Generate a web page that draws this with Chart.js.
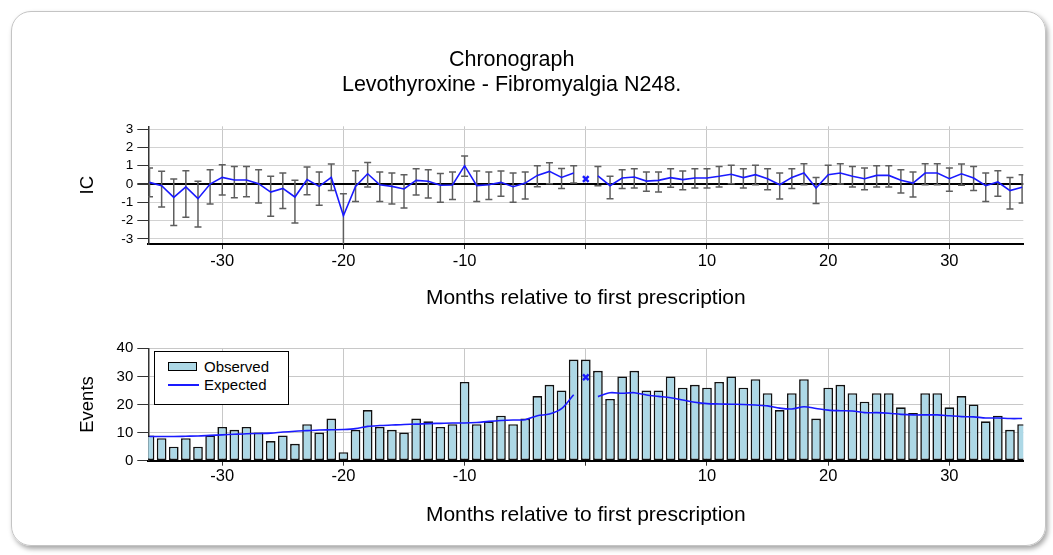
<!DOCTYPE html>
<html>
<head>
<meta charset="utf-8">
<script src="https://cdn.jsdelivr.net/npm/chart.js@4.4.1/dist/chart.umd.min.js"></script>
<style>
  body { margin: 0; width: 1053px; height: 555px; overflow: hidden; position: relative; background: #fff;
         font-family: 'Liberation Sans', Arial, sans-serif; }
  #card { position: absolute; left: 11px; top: 11px; width: 1033px; height: 533px;
          border: 1px solid #c4c4c4; border-radius: 20px; box-shadow: 2px 3px 5px rgba(0,0,0,0.35); }
  #topChart { position: absolute; left: 0; top: 0; }
  #bottomChart { position: absolute; left: 0; top: 320px; }
  #legend { position: absolute; left: 154px; top: 351px; width: 133px; height: 52px;
            border: 1.5px solid #000; background: #fff; }
  #legend .swatch { position: absolute; left: 13px; top: 10px; width: 27px; height: 7px;
                    background: #add8e6; border: 1.5px solid #000; }
  #legend .line { position: absolute; left: 13px; top: 32px; width: 31px; height: 2px; background: #1a1aff; }
  #legend .label { position: absolute; left: 49px; font-size: 15px; line-height: 18px; color: #000; }
</style>
</head>
<body>
<div id="card"></div>
<canvas id="topChart" width="1053" height="320"></canvas>
<canvas id="bottomChart" width="1053" height="235"></canvas>
<div id="legend">
  <div class="swatch"></div><div class="label" style="top:6px">Observed</div>
  <div class="line"></div><div class="label" style="top:24px">Expected</div>
</div>
<script>
// months relative to first prescription
const months = [-36, -35, -34, -33, -32, -31, -30, -29, -28, -27, -26, -25, -24, -23, -22, -21, -20, -19,
  -18, -17, -16, -15, -14, -13, -12, -11, -10, -9, -8, -7, -6, -5, -4, -3, -2, -1,
  0, 1, 2, 3, 4, 5, 6, 7, 8, 9, 10, 11, 12, 13, 14, 15, 16, 17, 18,
  19, 20, 21, 22, 23, 24, 25, 26, 27, 28, 29, 30, 31, 32, 33, 34, 35, 36];

const xTicks = [-30, -20, -10, 0, 10, 20, 30];
const icTicks = [-3, -2, -1, 0, 1, 2, 3];
const eventTicks = [0, 10, 20, 30, 40];

const icValues = [0.09, -0.09, -0.73, -0.16, -0.80, 0.00, 0.36, 0.22, 0.22, 0.02, -0.44, -0.24, -0.71, 0.24, -0.13, 0.36, -1.73, -0.13,
  0.56, -0.04, -0.13, -0.27, 0.20, 0.15, -0.07, -0.05, 1.00, -0.09, -0.04, 0.09, -0.15, 0.05, 0.47, 0.69, 0.36, 0.60,
  null, 0.45, -0.09, 0.33, 0.38, 0.16, 0.20, 0.35, 0.24, 0.33, 0.33, 0.42, 0.53, 0.35, 0.51, 0.29, -0.04, 0.36, 0.60,
  -0.22, 0.51, 0.60, 0.42, 0.29, 0.47, 0.47, 0.20, 0.05, 0.60, 0.60, 0.29, 0.56, 0.33, -0.09, 0.11, -0.36, -0.18];

const icLower = [-0.70, -1.25, -2.27, -1.82, -2.35, -1.09, -0.60, -0.75, -0.69, -1.04, -1.76, -1.33, -2.13, -0.58, -1.16, -0.36, -3.50, -0.95,
  -0.16, -0.95, -1.09, -1.31, -0.60, -0.76, -1.00, -0.85, 0.42, -0.95, -0.85, -0.67, -1.00, -0.82, -0.15, 0.02, -0.24, 0.05,
  null, -0.09, -0.80, -0.25, -0.22, -0.40, -0.44, -0.18, -0.31, -0.22, -0.22, -0.16, 0.02, -0.22, -0.04, -0.31, -0.82, -0.25, -0.04,
  -1.07, -0.04, 0.00, -0.16, -0.31, -0.16, -0.16, -0.49, -0.71, -0.04, -0.04, -0.40, -0.07, -0.35, -0.96, -0.67, -1.36, -1.04];

const icUpper = [0.87, 0.69, 0.27, 0.73, 0.15, 0.78, 1.05, 0.95, 0.95, 0.78, 0.42, 0.60, 0.20, 0.93, 0.65, 1.09, -0.53, 0.73,
  1.18, 0.65, 0.60, 0.51, 0.84, 0.78, 0.58, 0.65, 1.53, 0.71, 0.65, 0.71, 0.60, 0.65, 1.00, 1.16, 0.85, 1.00,
  null, 0.96, 0.42, 0.78, 0.84, 0.65, 0.65, 0.84, 0.71, 0.84, 0.84, 0.96, 1.02, 0.84, 1.02, 0.84, 0.60, 0.84, 1.11,
  0.36, 1.02, 1.11, 0.96, 0.87, 1.00, 1.00, 0.78, 0.65, 1.11, 1.11, 0.87, 1.09, 0.95, 0.60, 0.73, 0.36, 0.51];

const icAtZero = 0.27;

const observed = [9, 8, 5, 8, 5, 9, 12, 11, 12, 10, 7, 9, 6, 13, 10, 15, 3, 11,
  18, 12, 11, 10, 15, 14, 12, 13, 28, 13, 14, 16, 13, 15, 23, 27, 25, 36,
  36, 32, 22, 30, 32, 25, 25, 30, 26, 27, 26, 28, 30, 26, 29, 24, 18, 24, 29,
  15, 26, 27, 24, 21, 24, 24, 19, 17, 24, 24, 19, 23, 20, 14, 16, 11, 13];

const expected = [8.6, 8.6, 8.6, 8.7, 8.8, 9.0, 9.2, 9.4, 9.6, 9.7, 9.8, 10.2, 10.5, 10.7, 10.9, 11.0, 11.1, 11.4,
  12.2, 12.5, 12.7, 12.9, 13.0, 13.2, 13.3, 13.4, 13.4, 13.6, 14.0, 14.3, 14.5, 14.6, 16.0, 16.6, 18.5, 23.5,
  null, 22.8, 24.2, 24.0, 24.2, 23.4, 22.9, 22.4, 21.6, 20.8, 20.3, 20.2, 20.1, 20.0, 19.8, 19.5, 18.7, 18.4, 19.2,
  18.6, 18.0, 17.8, 17.7, 17.1, 17.1, 16.9, 16.5, 16.3, 16.3, 16.3, 16.0, 15.7, 15.6, 15.2, 15.2, 15.0, 15.0];

const expectedAtZero = 29.7;

const FONT = "'Liberation Sans', Arial, sans-serif";
const BLUE = '#1a1aff';
Chart.defaults.font.family = FONT;
Chart.defaults.color = '#000';

// whiskers for the IC credibility interval
const errorBars = {
  id: 'errorBars',
  beforeDatasetsDraw(chart) {
    const { ctx, chartArea, scales: { x, y } } = chart;
    ctx.save();
    ctx.beginPath();
    ctx.rect(chartArea.left, chartArea.top, chartArea.width, chartArea.height);
    ctx.clip();
    ctx.strokeStyle = '#5e5e5e';
    ctx.lineWidth = 1.5;
    months.forEach((m, i) => {
      if (icLower[i] === null) return;
      const px = x.getPixelForValue(m);
      const lo = y.getPixelForValue(icLower[i]);
      const hi = y.getPixelForValue(icUpper[i]);
      ctx.beginPath();
      ctx.moveTo(px, lo); ctx.lineTo(px, hi);
      ctx.moveTo(px - 3.5, lo); ctx.lineTo(px + 3.5, lo);
      ctx.moveTo(px - 3.5, hi); ctx.lineTo(px + 3.5, hi);
      ctx.stroke();
    });
    ctx.restore();
  }
};

const xAxis = (axisHeight, tickPad, titlePad) => ({
  type: 'linear',
  min: -36.1,
  max: 36.1,
  offset: false,
  afterBuildTicks: s => { s.ticks = xTicks.map(v => ({ value: v })); },
  afterFit: s => { s.height = axisHeight; },
  ticks: { font: { size: 16.5 }, padding: tickPad, maxRotation: 0, callback: v => v === 0 ? '' : String(v) },
  grid: { color: '#c8c8c8', lineWidth: 1, tickLength: 5, tickColor: '#333', offset: false },
  border: { color: '#000', width: 2 },
  title: { display: true, text: 'Months relative to first prescription', font: { size: 21 },
           padding: { top: 0, bottom: titlePad } }
});

const yTitle = text => ({ display: true, text: text, font: { size: 18.5 }, padding: { top: 77, bottom: 0 } });

new Chart(document.getElementById('topChart'), {
  type: 'line',
  data: {
    datasets: [
      {
        data: months.map((m, i) => ({ x: m, y: icValues[i] })),
        borderColor: BLUE,
        borderWidth: 1.6,
        pointRadius: 0,
        spanGaps: false,
        tension: 0
      },
      {
        data: [{ x: 0, y: icAtZero }],
        showLine: false,
        pointStyle: 'crossRot',
        pointRadius: 4,
        borderColor: BLUE,
        borderWidth: 2.5
      }
    ]
  },
  options: {
    responsive: false,
    animation: false,
    layout: { padding: { left: 0, right: 29.7, top: 0, bottom: 0 } },
    plugins: {
      legend: { display: false },
      tooltip: { enabled: false },
      title: {
        display: true,
        text: ['Chronograph', 'Levothyroxine - Fibromyalgia N248.'],
        font: { size: 21.5, weight: 'normal', lineHeight: 1.163 },
        color: '#000',
        padding: { top: 47.5, bottom: 28.8 }
      }
    },
    scales: {
      x: xAxis(75.9, 2, 9.4),
      y: {
        min: -3.28,
        max: 3.15,
        afterBuildTicks: s => { s.ticks = icTicks.map(v => ({ value: v })); },
        afterFit: s => { s.width = 148.3; },
        ticks: { font: { size: 13.5 }, padding: 4, callback: v => String(v) },
        grid: {
          color: c => c.tick && c.tick.value === 0 ? '#000' : '#d2d2d2',
          lineWidth: c => c.tick && c.tick.value === 0 ? 2 : 1,
          tickLength: 11,
          tickColor: '#333'
        },
        border: { color: '#333', width: 1.5 },
        title: yTitle('IC')
      }
    }
  },
  plugins: [errorBars]
});

new Chart(document.getElementById('bottomChart'), {
  type: 'bar',
  data: {
    datasets: [
      {
        type: 'line',
        data: months.map((m, i) => ({ x: m, y: expected[i] })),
        borderColor: BLUE,
        borderWidth: 1.6,
        pointRadius: 0,
        spanGaps: false,
        tension: 0.3
      },
      {
        type: 'line',
        data: [{ x: 0, y: expectedAtZero }],
        showLine: false,
        pointStyle: 'crossRot',
        pointRadius: 4,
        borderColor: BLUE,
        borderWidth: 2.5
      },
      {
        data: months.map((m, i) => ({ x: m, y: observed[i] })),
        backgroundColor: '#add8e6',
        borderColor: '#111',
        borderWidth: 1.6,
        borderSkipped: false,
        barPercentage: 0.8,
        categoryPercentage: 1.0
      }
    ]
  },
  options: {
    responsive: false,
    animation: false,
    layout: { padding: { left: 0, right: 29.7, top: 28.3, bottom: 0 } },
    plugins: {
      legend: { display: false },
      tooltip: { enabled: false }
    },
    scales: {
      x: xAxis(94.3, 0.4, 27.4),
      y: {
        min: 0,
        max: 40,
        afterBuildTicks: s => { s.ticks = eventTicks.map(v => ({ value: v })); },
        afterFit: s => { s.width = 148.3; },
        ticks: { font: { size: 15 }, padding: 4, callback: v => String(v) },
        grid: { color: '#c8c8c8', lineWidth: 1, tickLength: 11, tickColor: '#333' },
        border: { color: '#333', width: 1.5 },
        title: yTitle('Events')
      }
    }
  }
});
</script>
</body>
</html>
